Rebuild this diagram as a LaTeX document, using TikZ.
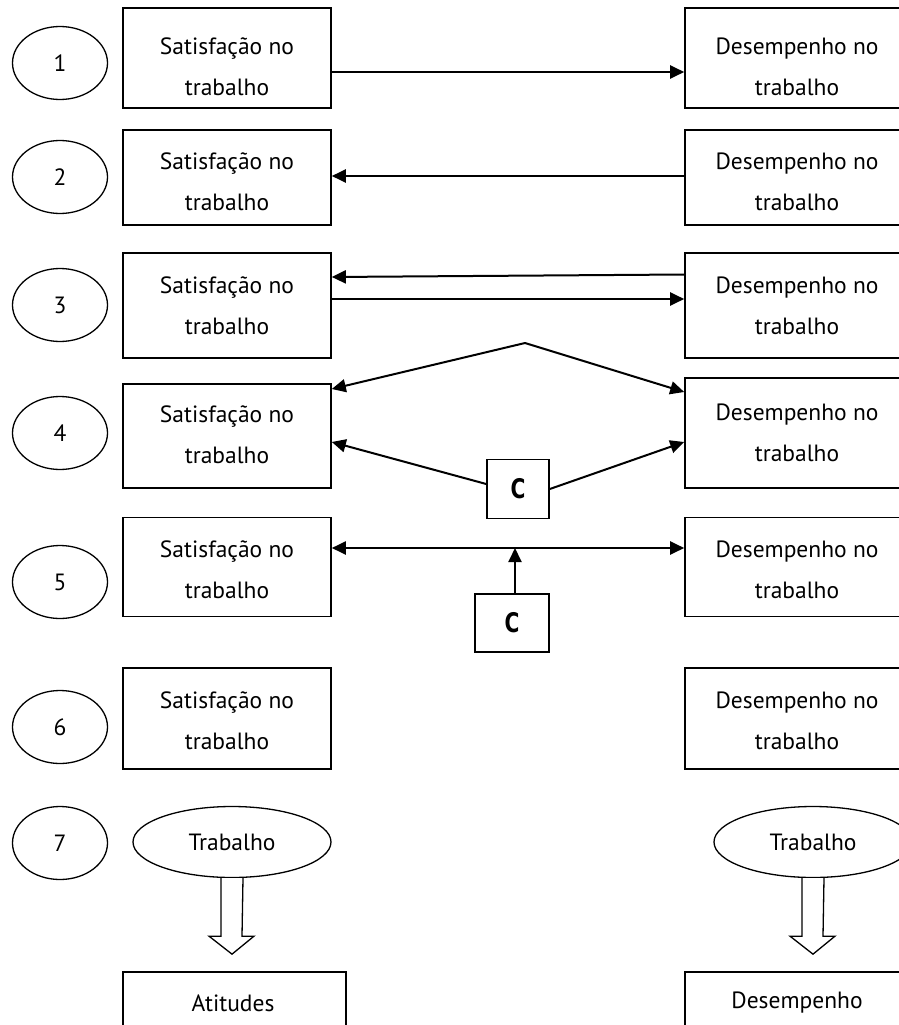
\documentclass[tikz,border=0pt]{standalone}
\usepackage{fontspec}
\setmainfont{PT Sans}
\newfontfamily\heavyfont{DejaVu Sans}
\usetikzlibrary{arrows.meta,shapes.geometric}
\begin{document}
\begin{tikzpicture}[x=1pt,y=-1pt,
  box/.style={draw,line width=1.6pt,rectangle,inner sep=0pt},
  lbox/.style={box,minimum width=208pt},
  rbox/.style={box,minimum width=224pt},
  txt/.style={align=center,inner sep=0pt,font=\fontsize{23.5}{41}\selectfont},
  num/.style={draw,ellipse,line width=1.3pt,minimum width=95pt,minimum height=73pt,inner sep=0pt,font=\fontsize{23.5}{25}\selectfont},
  oval/.style={draw,ellipse,line width=1.3pt,minimum width=198pt,minimum height=71pt,inner sep=0pt,font=\fontsize{23.5}{25}\selectfont},
  tip/.tip={Triangle[length=14pt,width=13pt]},
  arr/.style={line width=2pt,-tip},
  darr/.style={line width=2pt,tip-tip},
  cbox/.style={box,inner sep=0pt,font=\heavyfont\fontsize{27}{30}\selectfont\bfseries},
  hollow/.style={draw,line width=1.3pt,fill=white,line join=miter},
]
\useasboundingbox (0,0) rectangle (899,1025);
\clip (0,0) rectangle (899,1025);

% number ellipses
\node[num] (n1) at (60,63) {1};
\node[num] (n2) at (60,177) {2};
\node[num] (n3) at (60,305) {3};
\node[num] (n4) at (60,433) {4};
\node[num] (n5) at (60,582) {5};
\node[num] (n6) at (60,727) {6};
\node[num] (n7) at (60,843) {7};

% left boxes
\node[lbox,minimum height=100pt] (L1) at (227,58) {};
\node[lbox,minimum height=95pt]  (L2) at (227,177.5) {};
\node[lbox,minimum height=105pt] (L3) at (227,305.5) {};
\node[lbox,minimum height=104pt] (L4) at (227,436) {};
\node[lbox,minimum height=99pt]  (L5) at (227,567) {};
\node[lbox,minimum height=101pt] (L6) at (227,718.5) {};

% right boxes
\node[rbox,minimum height=100pt] (R1) at (797,58) {};
\node[rbox,minimum height=95pt]  (R2) at (797,177.5) {};
\node[rbox,minimum height=105pt] (R3) at (797,305.5) {};
\node[rbox,minimum height=110pt] (R4) at (797,433) {};
\node[rbox,minimum height=99pt]  (R5) at (797,567) {};
\node[rbox,minimum height=101pt] (R6) at (797,718.5) {};

% texts
\node[txt] (L1t) at (227,67) {Satisfação no\\trabalho};
\node[txt] (L2t) at (227,182) {Satisfação no\\trabalho};
\node[txt] (L3t) at (227,306) {Satisfação no\\trabalho};
\node[txt] (L4t) at (227,435) {Satisfação no\\trabalho};
\node[txt] (L5t) at (227,570) {Satisfação no\\trabalho};
\node[txt] (L6t) at (227,721) {Satisfação no\\trabalho};
\node[txt] (R1t) at (797,67) {Desempenho no\\trabalho};
\node[txt] (R2t) at (797,182) {Desempenho no\\trabalho};
\node[txt] (R3t) at (797,306) {Desempenho no\\trabalho};
\node[txt] (R4t) at (797,433) {Desempenho no\\trabalho};
\node[txt] (R5t) at (797,570) {Desempenho no\\trabalho};
\node[txt] (R6t) at (797,721) {Desempenho no\\trabalho};

% C boxes
\node[cbox,minimum width=62pt,minimum height=59pt] (C4) at (518,489) {\scalebox{0.75}[1]{C}};
\node[cbox,minimum width=74pt,minimum height=58pt] (C5) at (512,623) {\scalebox{0.75}[1]{C}};
\coordinate (apex) at (525,343);

% row 7
\node[oval] (T1) at (232,842) {Trabalho};
\node[oval] (T2) at (813,842) {Trabalho};
\node[box,minimum width=223pt,minimum height=70pt] (A1) at (234.5,1007) {};
\node[rbox,minimum height=70pt] (A2) at (797,1007) {};
\node[txt] (A1t) at (233,1003) {Atitudes};
\node[txt] (A2t) at (797,1003) {Desempenho};

% row arrows
\draw[arr] ([yshift=-14pt]L1.east) -- ([yshift=-14pt]R1.west);
\draw[arr] ([yshift=1.5pt]R2.west) -- ([yshift=1.5pt]L2.east);
\draw[arr] ([yshift=31pt]R3.west) -- ([yshift=28.5pt]L3.east);
\draw[arr] ([yshift=6.5pt]L3.east) -- ([yshift=6.5pt]R3.west);
\draw[arr] (apex) -- ([yshift=47pt]L4.east);
\draw[arr] (apex) -- ([yshift=41pt]R4.west);
\draw[arr] ([yshift=5pt]C4.west) -- ([yshift=-6pt]L4.east);
\draw[arr] (C4.east) -- ([yshift=-9pt]R4.west);
\draw[darr] ([yshift=19pt]L5.east) -- ([yshift=19pt]R5.west);
\draw[arr] ([xshift=3pt]C5.north) -- ([xshift=3pt,yshift=19pt]C5.north |- L5.east);

% hollow block arrows
\draw[hollow] ([xshift=-11pt]T1.south) -- ++(0,58) -- ++(-12,0) -- ([yshift=-76pt]T1.south) -- ++(22,-18) -- ++(-12,0) -- ([xshift=11pt]T1.south);
\draw[hollow] ([xshift=-11pt]T2.south) -- ++(0,58) -- ++(-12,0) -- ([yshift=-76pt]T2.south) -- ++(22,-18) -- ++(-12,0) -- ([xshift=11pt]T2.south);
\end{tikzpicture}
\end{document}
